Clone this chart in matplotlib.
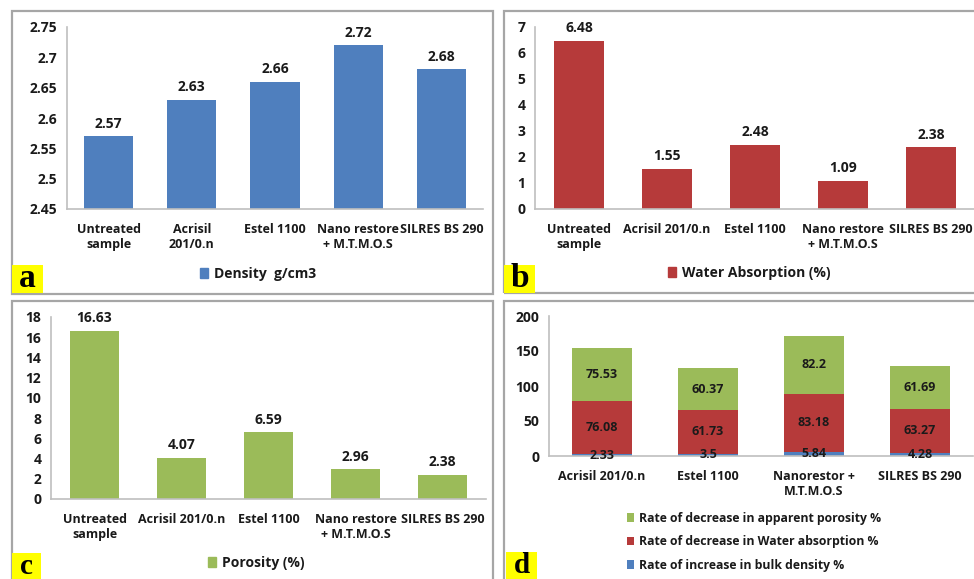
import matplotlib
matplotlib.use("Agg")
import matplotlib.pyplot as plt
from matplotlib.patches import Rectangle, Patch

plt.rcParams['font.family'] = ['Open Sans', 'DejaVu Sans']
plt.rcParams['font.weight'] = 'bold'

W, H = 974, 579

# data
samples = ["Untreated\nsample", "Acrisil\n201/0.n", "Estel 1100",
           "Nano restore\n+ M.T.M.O.S", "SILRES BS 290"]
samples_wide = ["Untreated\nsample", "Acrisil 201/0.n", "Estel 1100",
                "Nano restore\n+ M.T.M.O.S", "SILRES BS 290"]
density = [2.57, 2.63, 2.66, 2.72, 2.68]
water_abs = [6.48, 1.55, 2.48, 1.09, 2.38]
porosity = [16.63, 4.07, 6.59, 2.96, 2.38]

treatments = ["Acrisil 201/0.n", "Estel 1100", "Nanorestor +\nM.T.M.O.S", "SILRES BS 290"]
inc_density = [2.33, 3.5, 5.84, 4.28]
dec_water = [76.08, 61.73, 83.18, 63.27]
dec_porosity = [75.53, 60.37, 82.2, 61.69]

BLUE = "#4F7FBE"
RED = "#B63A3A"
GREEN = "#9BBB59"
GRID = "#A6A6A6"
INK = "#1a1a1a"


def rect(x0, y0, x1, y1):
    # pixel box (top-left origin) -> figure fraction
    return [x0 / W, 1 - y1 / H, (x1 - x0) / W, (y1 - y0) / H]


def style(ax, ylim, yticks, yfmt):
    ax.set_ylim(*ylim)
    ax.set_yticks(yticks)
    ax.set_yticklabels([yfmt(v) for v in yticks], fontsize=10, color=INK)
    for s in ["top", "right"]:
        ax.spines[s].set_visible(False)
    for s in ["left", "bottom"]:
        ax.spines[s].set_color("#BFBFBF")
        ax.spines[s].set_linewidth(1.2)
    ax.tick_params(length=0, pad=7)
    ax.tick_params(axis='x', labelsize=9, pad=10, labelcolor=INK)
    ax.set_facecolor("none")


def panel_box(x0, y0, x1, y1, letter, lx0, ly0, lx1, ly1, fs=24):
    fig.patches.append(Rectangle((x0 / W, 1 - y1 / H), (x1 - x0) / W, (y1 - y0) / H,
                                 transform=fig.transFigure, fill=False,
                                 edgecolor=GRID, linewidth=1.6, zorder=0))
    fig.patches.append(Rectangle((lx0 / W, 1 - ly1 / H), (lx1 - lx0) / W, (ly1 - ly0) / H,
                                 transform=fig.transFigure, facecolor="#FFFF00",
                                 edgecolor="none", zorder=1))
    fig.text((lx0 + lx1) / 2 / W, 1 - (ly0 + ly1) / 2 / H, letter,
             family="Liberation Serif", weight="bold", fontsize=fs,
             ha="center", va="center", color="black")


def legend_one(ax, color, label, cx, cy):
    ax.legend(handles=[Patch(color=color, label=label)], loc="center",
              bbox_to_anchor=(cx / W, 1 - cy / H), bbox_transform=fig.transFigure,
              frameon=False, fontsize=10, handlelength=0.6, handleheight=0.7,
              handletextpad=0.4, labelcolor=INK)


fig = plt.figure(figsize=(W / 100, H / 100), dpi=100)

panel_box(12, 11, 493, 294, "a", 12, 265, 43, 293)
panel_box(504, 11, 985, 293, "b", 504, 265, 535, 293)
panel_box(12, 301, 493, 590, "c", 12, 553, 41, 579, fs=21)
panel_box(504, 301, 985, 590, "d", 506, 552, 537, 579, fs=21)

# a: density
ax = fig.add_axes(rect(67, 27, 483, 209))
bars = ax.bar(range(5), density, width=0.59, color=BLUE)
ax.bar_label(bars, labels=[f"{v:.2f}" for v in density], padding=4, fontsize=10, color=INK)
ax.set_xlim(-0.5, 4.5)
ax.set_xticks(range(5))
ax.set_xticklabels(samples)
style(ax, (2.45, 2.75), [2.45, 2.5, 2.55, 2.6, 2.65, 2.7, 2.75],
      lambda v: f"{v:g}")
legend_one(ax, BLUE, "Density  g/cm3", 258, 274)

# b: water absorption
ax = fig.add_axes(rect(535, 27, 975, 209))
bars = ax.bar(range(5), water_abs, width=0.56, color=RED)
ax.bar_label(bars, labels=[f"{v:.2f}" for v in water_abs], padding=4, fontsize=10, color=INK)
ax.set_xlim(-0.5, 4.5)
ax.set_xticks(range(5))
ax.set_xticklabels(samples_wide)
style(ax, (0, 7), range(0, 8), lambda v: f"{v}")
legend_one(ax, RED, "Water Absorption (%)", 749, 273)

# c: porosity
ax = fig.add_axes(rect(51, 317, 486, 499))
bars = ax.bar(range(5), porosity, width=0.57, color=GREEN)
ax.bar_label(bars, labels=[f"{v:.2f}" for v in porosity], padding=4, fontsize=10, color=INK)
ax.set_xlim(-0.5, 4.5)
ax.set_xticks(range(5))
ax.set_xticklabels(samples_wide)
style(ax, (0, 18), range(0, 19, 2), lambda v: f"{v}")
legend_one(ax, GREEN, "Porosity (%)", 256, 563)

# d: stacked rates
ax = fig.add_axes(rect(549, 316, 973, 456))
x = range(4)
b1 = ax.bar(x, inc_density, width=0.57, color=BLUE,
            label="Rate of increase in bulk density %")
b2 = ax.bar(x, dec_water, width=0.57, bottom=inc_density, color=RED,
            label="Rate of decrease in Water absorption %")
base = [a + b for a, b in zip(inc_density, dec_water)]
b3 = ax.bar(x, dec_porosity, width=0.57, bottom=base, color=GREEN,
            label="Rate of decrease in apparent porosity %")
for bc, vals in [(b1, inc_density), (b2, dec_water), (b3, dec_porosity)]:
    ax.bar_label(bc, labels=[f"{v:g}" for v in vals], label_type="center",
                 fontsize=9, color=INK)
ax.set_xlim(-0.5, 3.5)
ax.set_xticks(list(x))
ax.set_xticklabels(treatments)
style(ax, (0, 200), range(0, 201, 50), lambda v: f"{v}")
ax.tick_params(axis='x', pad=10)
ax.legend(handles=[b3, b2, b1], loc="upper left",
          bbox_to_anchor=(627 / W, 1 - 512 / H), bbox_transform=fig.transFigure,
          frameon=False, fontsize=8.8, handlelength=0.6, handleheight=0.7,
          handletextpad=0.4, labelspacing=0.85, borderpad=0, borderaxespad=0,
          labelcolor=INK)

fig.savefig("out.png", dpi=100)
